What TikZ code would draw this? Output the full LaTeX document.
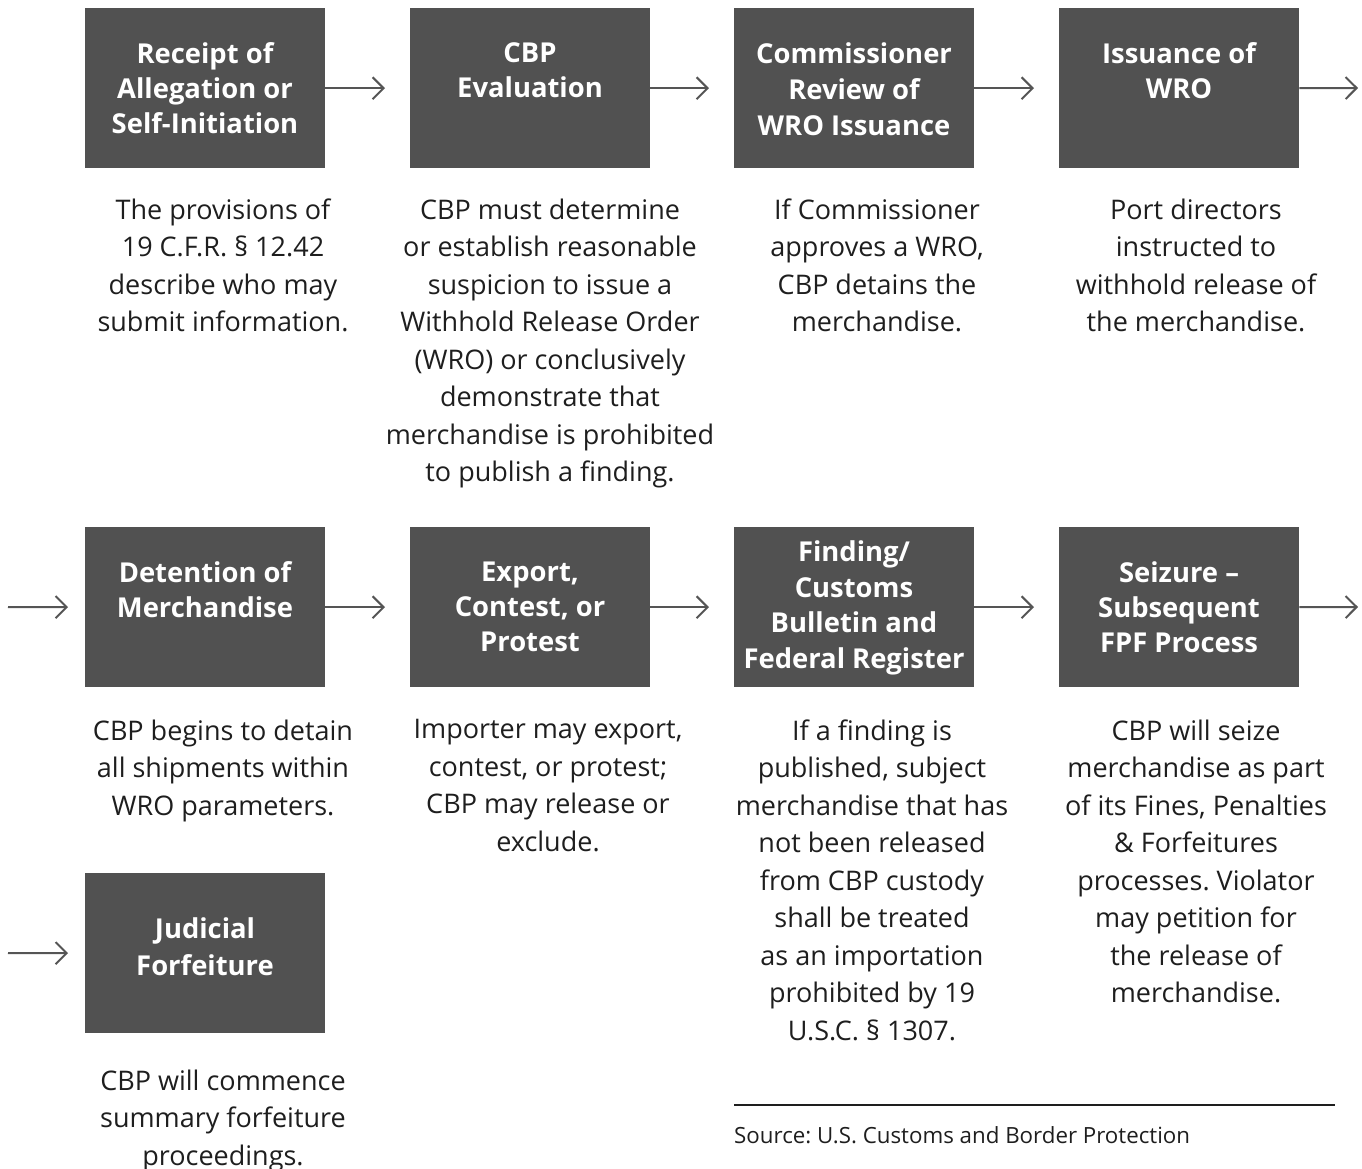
\documentclass[tikz,border=0pt]{standalone}
\usepackage{fontspec}
\setmainfont{Open Sans}
\usetikzlibrary{arrows.meta}
\definecolor{boxgray}{HTML}{515151}
\definecolor{arrgray}{HTML}{555555}
\definecolor{txt}{HTML}{1E1E1E}
\frenchspacing
\begin{document}
\begin{tikzpicture}[x=1pt,y=-1pt,
  stepbox/.style={fill=boxgray,draw=none,minimum width=240pt,minimum height=160pt,inner sep=0pt,anchor=north west},
  boxtxt/.style={text=white,font=\fontsize{27.4}{35}\selectfont\bfseries,align=center,anchor=north,inner sep=0pt},
  desc/.style={text=txt,font=\fontsize{27}{37.5}\selectfont,align=center,anchor=north,inner sep=0pt},
  flow/.style={draw=arrgray,line width=2pt,-{Straight Barb[length=11pt,width=22pt,line width=2pt]}}]
\useasboundingbox (0,0) rectangle (1362,1169);
% boxes
\node[stepbox] (b1) at (85,8) {};
\node[stepbox] (b2) at (410,8) {};
\node[stepbox] (b3) at (734,8) {};
\node[stepbox] (b4) at (1059,8) {};
\node[stepbox] (b5) at (85,527) {};
\node[stepbox] (b6) at (410,527) {};
\node[stepbox] (b7) at (734,527) {};
\node[stepbox] (b8) at (1059,527) {};
\node[stepbox] (b9) at (85,873) {};
% box texts
\node[boxtxt] (h1) at (205,42.5) {Receipt of\\Allegation or\\Self-Initiation};
\node[boxtxt] (h2) at (530,42.5) {CBP\\Evaluation};
\node[boxtxt,font=\fontsize{27.4}{36}\selectfont\bfseries] (h3) at (854,42.5) {Commissioner\\Review of\\WRO Issuance};
\node[boxtxt] (h4) at (1179,42.5) {Issuance of\\WRO};
\node[boxtxt] (h5) at (205,561.5) {Detention of\\Merchandise};
\node[boxtxt] (h6) at (530,561.5) {Export,\\Contest, or\\Protest};
\node[boxtxt,font=\fontsize{27.4}{35.6}\selectfont\bfseries] (h7) at (854,540.5) {Finding/\\Customs\\Bulletin and\\Federal Register};
\node[boxtxt] (h8) at (1179,561.5) {Seizure –\\Subsequent\\FPF Process};
\node[boxtxt,font=\fontsize{27.4}{37}\selectfont\bfseries] (h9) at (205,917.5) {Judicial\\Forfeiture};
% descriptions
\node[desc] (d1) at (223,198.5) {The provisions of\\19 C.F.R. § 12.42\\describe who may\\submit information.};
\node[desc] (d2) at (550,198.5) {CBP must determine\\or establish reasonable\\suspicion to issue a\\Withhold Release Order\\(WRO) or conclusively\\demonstrate that\\merchandise is prohibited\\to publish a finding.};
\node[desc] (d3) at (877,198.5) {If Commissioner\\approves a WRO,\\CBP detains the\\merchandise.};
\node[desc] (d4) at (1196,198.5) {Port directors\\instructed to\\withhold release of\\the merchandise.};
\node[desc] (d5) at (223,719.5) {CBP begins to detain\\all shipments within\\WRO parameters.};
\node[desc] (d6) at (548,719.5) {Importer may export,\\contest, or protest;\\CBP may release or\\exclude.};
\node[desc] (d7) at (872,719.5) {If a finding is\\published, subject\\merchandise that has\\not been released\\from CBP custody\\shall be treated\\as an importation\\prohibited by 19\\U.S.C. § 1307.};
\node[desc] (d8) at (1196,719.5) {CBP will seize\\merchandise as part\\of its Fines, Penalties\\\& Forfeitures\\processes. Violator\\may petition for\\the release of\\merchandise.};
\node[desc] (d9) at (223,1069.5) {CBP will commence\\summary forfeiture\\proceedings.};
% arrows
\draw[flow,shorten >=25pt] (b1.east) -- (b2.west);
\draw[flow,shorten >=25pt] (b2.east) -- (b3.west);
\draw[flow,shorten >=25pt] (b3.east) -- (b4.west);
\coordinate (o4) at (1358,88);
\draw[flow] (b4.east) -- (o4);
\coordinate (i5) at (8,607);
\draw[flow,shorten >=17pt] (i5) -- (b5.west);
\draw[flow,shorten >=25pt] (b5.east) -- (b6.west);
\draw[flow,shorten >=25pt] (b6.east) -- (b7.west);
\draw[flow,shorten >=25pt] (b7.east) -- (b8.west);
\coordinate (o8) at (1358,607);
\draw[flow] (b8.east) -- (o8);
\coordinate (i9) at (8,953);
\draw[flow,shorten >=17pt] (i9) -- (b9.west);
% source
\coordinate (s1) at (734,1105);
\coordinate (s2) at (1335,1105);
\draw[draw=txt,line width=1.8pt] (s1) -- (s2);
\node[anchor=west,inner sep=0pt,text=txt,font=\fontsize{22.3}{26}\selectfont] (src) at (734,1135) {Source: U.S. Customs and Border Protection};
\end{tikzpicture}
\end{document}
